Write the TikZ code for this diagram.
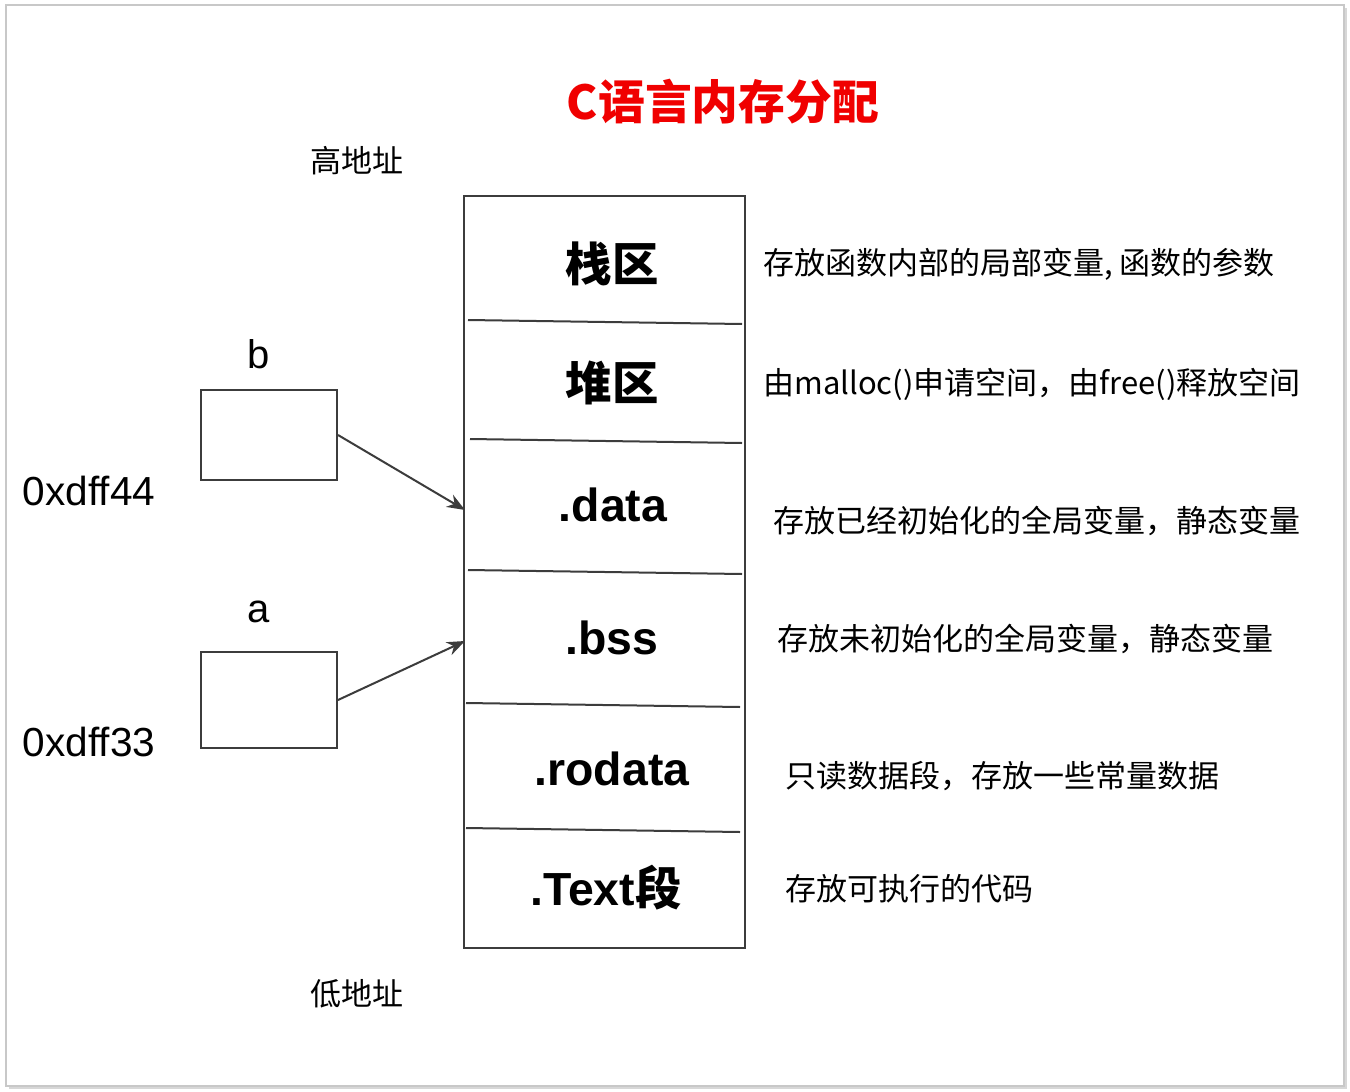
\documentclass[tikz,border=0pt]{standalone}
\usepackage{fontspec}
\setmainfont{Liberation Sans}
\newfontfamily\cjk{Noto Sans CJK SC}
\usetikzlibrary{arrows.meta}
\definecolor{framegray}{RGB}{200,200,200}
\definecolor{shadowgray}{RGB}{215,215,215}
\definecolor{titlered}{RGB}{240,0,0}
\definecolor{linegray}{RGB}{60,60,60}
\tikzset{
  boxline/.style={draw=linegray,line width=1pt},
  cell/.style={font=\fontsize{23.2}{27}\selectfont\bfseries},
  desc/.style={anchor=west,inner sep=0pt,font=\cjk\fontsize{15.5}{18}\selectfont},
  addr/.style={font=\fontsize{20.3}{24}\selectfont},
  varname/.style={font=\fontsize{20}{24}\selectfont},
  side/.style={font=\cjk\fontsize{15.5}{18}\selectfont},
  ptr/.style={draw=linegray,line width=1pt,-{Stealth[length=9pt,width=7pt]}}
}
\begin{document}
\begin{tikzpicture}[x=0.5pt,y=-0.5pt]
\useasboundingbox (0,0) rectangle (1350,1092);
% frame with shadow
\fill[shadowgray] (9,8) rectangle (1347,1089);
\draw[framegray,fill=white,line width=1pt] (6,5) rectangle (1344,1086);
% title
\node[text=titlered,font=\cjk\fontsize{23.4}{27}\selectfont\bfseries] (title) at (723,102) {C语言内存分配};
\node[side] (high) at (357,161) {高地址};
\node[side] (low) at (357,994) {低地址};
% memory box
\node[boxline,minimum width=140.5pt,minimum height=376pt,inner sep=0pt] (mem) at (604.5,572) {};
\draw[boxline] (468,320) -- (742,324);
\draw[boxline] (470,439) -- (742,443);
\draw[boxline] (468,570) -- (742,574);
\draw[boxline] (466,703) -- (740,707);
\draw[boxline] (466,828) -- (740,832);
\node[cell] (stack) at (612,264) {\cjk 栈区};
\node[cell] (heap) at (612,383) {\cjk 堆区};
\node[cell] (data) at (613,505) {.data};
\node[cell] (bss) at (612,638) {.bss};
\node[cell] (rodata) at (612,769) {.rodata};
\node[cell] (text) at (606,888) {.Text{\cjk 段}};
% descriptions
\node[desc] (d1) at (763,264) {存放函数内部的局部变量, 函数的参数};
\node[desc] (d2) at (763,384) {由malloc()申请空间，由free()释放空间};
\node[desc] (d3) at (773,521) {存放已经初始化的全局变量，静态变量};
\node[desc] (d4) at (777,639) {存放未初始化的全局变量，静态变量};
\node[desc] (d5) at (785,776) {只读数据段，存放一些常量数据};
\node[desc] (d6) at (785,889) {存放可执行的代码};
% variables
\node[boxline,minimum width=68pt,minimum height=45pt,inner sep=0pt] (bbox) at (269,435) {};
\node[boxline,minimum width=68pt,minimum height=48pt,inner sep=0pt] (abox) at (269,700) {};
\node[varname] (bname) at (259,354) {b};
\node[varname] (aname) at (259,612) {a};
\node[addr] (baddr) at (89,491) {0xdff44};
\node[addr] (aaddr) at (89,742) {0xdff33};
\coordinate (bt) at (465,510);
\coordinate (at) at (465,641);
\draw[ptr] (bbox.east) -- (bt);
\draw[ptr] (abox.east) -- (at);
\end{tikzpicture}
\end{document}
